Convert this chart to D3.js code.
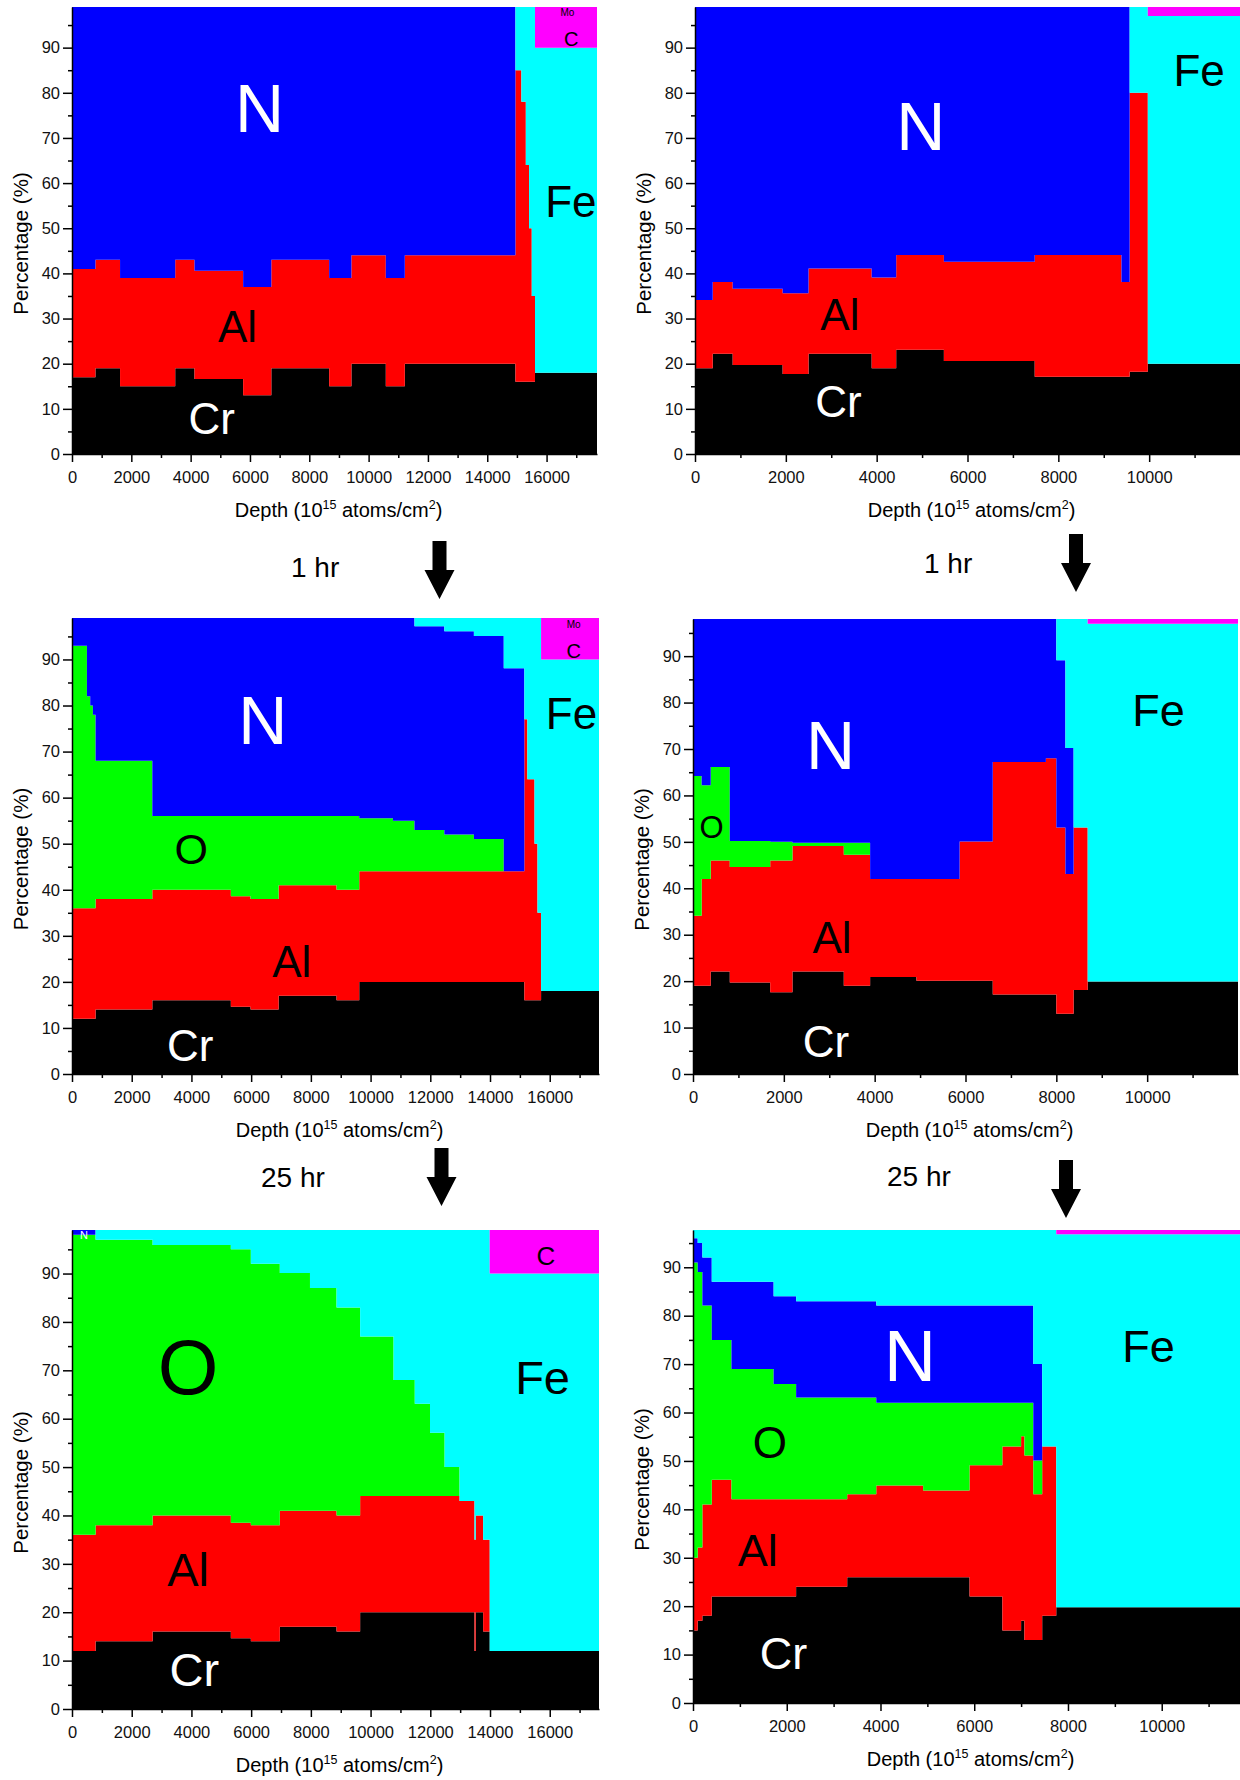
<!DOCTYPE html>
<html>
<head>
<meta charset="utf-8">
<script src="https://cdn.jsdelivr.net/npm/d3@7/dist/d3.min.js"></script>
<style>
    body { margin: 0; background: #fff; }
    svg text { font-family: "Liberation Sans", Arial, Helvetica, sans-serif; }
</style>
</head>
<body>
<svg id="chart" width="1240" height="1780"></svg>
<script>
// elements, stacked bottom to top
var elements = ["Cr", "Al", "O", "N", "Fe", "C"];
var colors = {Cr: "#000000", Al: "#ff0000", O: "#00ff00", N: "#0000ff", Fe: "#00ffff", C: "#ff00ff"};

// tick values
var yMajor = [0, 10, 20, 30, 40, 50, 60, 70, 80, 90];
var yMinor = [5, 15, 25, 35, 45, 55, 65, 75, 85, 95];
var xMajorLong = [0, 2000, 4000, 6000, 8000, 10000, 12000, 14000, 16000];
var xMinorLong = [1000, 3000, 5000, 7000, 9000, 11000, 13000, 15000, 17000];
var xMajorShort = [0, 2000, 4000, 6000, 8000, 10000];
var xMinorShort = [1000, 3000, 5000, 7000, 9000, 11000];

// panel 1 (top left) - bin edges in 10^15 atoms/cm2, values in %
var depth1 = [0, 790, 1620, 3480, 4130, 5770, 6720, 8670, 9420, 10580, 11220, 14950, 15150, 15300, 15410, 15500, 15610, 17700];
var cr1 = [17, 19, 15, 19, 16.6, 13, 19, 15, 20, 15, 20, 16, 16, 16, 16, 16, 18];
var al1 = [24, 24, 24, 24, 24, 24, 24, 24, 24, 24, 24, 69, 62, 48, 34, 19, 0];
var n1 = [58, 56, 60, 56, 58.4, 62, 56, 60, 55, 60, 55, 0, 0, 0, 0, 0, 0];
var fe1 = [0, 0, 0, 0, 0, 0, 0, 0, 0, 0, 0, 14, 21, 35, 49, 64, 72];
var c1 = [0, 0, 0, 0, 0, 0, 0, 0, 0, 0, 0, 0, 0, 0, 0, 0, 9];

// panel 2 (top right)
var depth2 = [0, 390, 830, 1930, 2500, 3890, 4430, 5480, 7480, 9390, 9570, 9970, 12000];
var cr2 = [19, 22.2, 19.7, 17.7, 22.2, 19, 23.1, 20.6, 17.1, 17.1, 18.2, 20];
var al2 = [15.1, 15.9, 16.9, 17.9, 18.9, 20.1, 21, 22, 27, 21, 61.8, 0];
var n2 = [64.9, 60.9, 62.4, 63.4, 57.9, 59.9, 54.9, 56.4, 54.9, 60.9, 0, 0];
var fe2 = [0, 0, 0, 0, 0, 0, 0, 0, 0, 0, 19, 77];
var c2 = [0, 0, 0, 0, 0, 0, 0, 0, 0, 0, 0, 2];

// panel 3 (middle left, 1 hr)
var depth3 = [0, 500, 610, 700, 790, 2690, 5320, 5980, 6920, 8860, 9620, 10750, 11470, 12470, 13460, 14460, 15150, 15250, 15490, 15590, 15710, 17650];
var cr3 = [12, 12, 12, 12, 14, 16, 14.6, 14, 17, 16, 20, 20, 20, 20, 20, 20, 16, 16, 16, 16, 18];
var al3 = [24, 24, 24, 24, 24, 24, 24, 24, 24, 24, 24, 24, 24, 24, 24, 24, 61, 48, 34, 19, 0];
var o3 = [57, 46, 44, 42, 30, 16, 17.4, 18, 15, 16, 11.5, 11, 9, 8, 7, 0, 0, 0, 0, 0, 0];
var n3 = [6, 17, 19, 21, 31, 43, 43, 43, 43, 43, 43.5, 44, 44.2, 44.1, 44.1, 44.1, 0, 0, 0, 0, 0];
var fe3 = [0, 0, 0, 0, 0, 0, 0, 0, 0, 0, 0, 0, 1.8, 2.9, 3.9, 10.9, 22, 35, 49, 64, 72];
var c3 = [0, 0, 0, 0, 0, 0, 0, 0, 0, 0, 0, 0, 0, 0, 0, 0, 0, 0, 0, 0, 9];

// panel 4 (middle right, 1 hr)
var depth4 = [0, 190, 390, 810, 1700, 2190, 3320, 3900, 4920, 5870, 6600, 7770, 8000, 8200, 8380, 8690, 12000];
var cr4 = [19, 19, 22.1, 19.7, 17.6, 22.1, 19, 20.9, 20.1, 20.1, 17.1, 17.1, 13, 13, 18.1, 19.9];
var al4 = [15.1, 23, 23.9, 24.9, 28.4, 27, 28.2, 21.1, 21.9, 30, 50.1, 50.9, 40.1, 30.1, 35, 0];
var o4 = [30.1, 20.2, 20.1, 5.6, 4, 0.7, 2.6, 0, 0, 0, 0, 0, 0, 0, 0, 0];
var n4 = [33.8, 35.8, 31.9, 47.8, 48, 48.2, 48.2, 56, 56, 47.9, 30.8, 30, 36, 27.1, 0, 0];
var fe4 = [0, 0, 0, 0, 0, 0, 0, 0, 0, 0, 0, 0, 8.9, 27.8, 44.9, 77.1];
var c4 = [0, 0, 0, 0, 0, 0, 0, 0, 0, 0, 0, 0, 0, 0, 0, 1];

// panel 5 (bottom left, 25 hr)
var depth5 = [0, 790, 2700, 5320, 5990, 6960, 7970, 8860, 9650, 10770, 11480, 11990, 12480, 12980, 13480, 13520, 13770, 13990, 17650];
var cr5 = [12, 14, 16, 14.6, 14, 17, 17, 16, 20, 20, 20, 20, 20, 20, 12, 20, 16, 12];
var al5 = [24, 24, 24, 23.9, 24, 24, 24, 24, 24, 24, 24, 24, 24, 23, 23, 20, 19, 0];
var o5 = [62, 59, 55.9, 56.5, 54, 49.1, 46, 43, 33, 24, 19.1, 13.1, 6, 0, 0, 0, 0, 0];
var n5 = [1, 0, 0, 0, 0, 0, 0, 0, 0, 0, 0, 0, 0, 0, 0, 0, 0, 0];
var fe5 = [0, 2, 3.1, 4, 7, 8.9, 12, 16, 22, 31, 35.9, 41.9, 49, 56, 64, 59, 64, 78];
var c5 = [0, 0, 0, 0, 0, 0, 0, 0, 0, 0, 0, 0, 0, 0, 0, 0, 0, 9];

// panel 6 (bottom right, 25 hr)
var depth6 = [0, 100, 200, 400, 820, 1720, 2200, 3290, 3910, 4910, 5900, 6600, 7000, 7070, 7260, 7450, 7750, 11670];
var cr6 = [15, 17, 18, 22, 22, 22, 24, 26, 26, 26, 22, 15, 17, 13, 13, 18, 19.8];
var al6 = [15, 15.1, 23, 24.1, 20.1, 20.1, 18.1, 17.1, 18.9, 17.9, 27.1, 38, 38.1, 38.1, 30.1, 35, 0];
var o6 = [61, 56.9, 41.1, 28.9, 26.9, 23.8, 21, 20, 17.1, 18.1, 12.9, 9, 6.9, 10.9, 7, 0, 0];
var n6 = [5, 6, 9.9, 12, 18, 18.1, 19.9, 19.9, 20.1, 20.1, 20.1, 20.1, 20.1, 20.1, 19.9, 0, 0];
var fe6 = [1.7, 2.7, 5.7, 10.7, 10.7, 13.7, 14.7, 14.7, 15.6, 15.6, 15.6, 15.6, 15.6, 15.6, 27.7, 44.7, 77];
var c6 = [0, 0, 0, 0, 0, 0, 0, 0, 0, 0, 0, 0, 0, 0, 0, 0, 0.9];

var panels = [
    {depth: depth1, series: {Cr: cr1, Al: al1, N: n1, Fe: fe1, C: c1}, ymax: 99,
        box: {left: 72, right: 597, top: 7, bottom: 454}, xMajor: xMajorLong, xMinor: xMinorLong,
        labels: [["N", 6320, 71.3, 68, "#fff"], ["Al", 5580, 24.9, 44, "#000"], ["Cr", 4710, 4.5, 44, "#fff"],
            ["Fe", 16820, 52.4, 44, "#000"], ["Mo", 16700, 97.1, 10, "#000"], ["C", 16830, 90.4, 20, "#000"]]},
    {depth: depth2, series: {Cr: cr2, Al: al2, N: n2, Fe: fe2, C: c2}, ymax: 99,
        box: {left: 695, right: 1240, top: 7, bottom: 454}, xMajor: xMajorShort, xMinor: xMinorShort,
        labels: [["N", 4970, 67.4, 68, "#fff"], ["Al", 3190, 27.4, 44, "#000"], ["Cr", 3160, 8.2, 44, "#fff"],
            ["Fe", 11100, 81.4, 44, "#000"]]},
    {depth: depth3, series: {Cr: cr3, Al: al3, O: o3, N: n3, Fe: fe3, C: c3}, ymax: 99,
        box: {left: 72, right: 599, top: 618, bottom: 1074}, xMajor: xMajorLong, xMinor: xMinorLong,
        labels: [["N", 6390, 71.7, 68, "#fff"], ["O", 3990, 45.7, 43, "#000"], ["Al", 7360, 21.1, 44, "#000"],
            ["Cr", 3960, 2.8, 44, "#fff"], ["Fe", 16730, 74.9, 44, "#000"], ["Mo", 16800, 96.9, 10, "#000"],
            ["C", 16800, 90.4, 20, "#000"]]},
    {depth: depth4, series: {Cr: cr4, Al: al4, O: o4, N: n4, Fe: fe4, C: c4}, ymax: 98,
        box: {left: 693, right: 1238, top: 619, bottom: 1074}, xMajor: xMajorShort, xMinor: xMinorShort,
        labels: [["N", 3030, 65.6, 68, "#fff"], ["O", 410, 50.9, 31, "#000"], ["Al", 3060, 26.1, 44, "#000"],
            ["Cr", 2930, 3.6, 44, "#fff"], ["Fe", 10250, 75.0, 45, "#000"]]},
    {depth: depth5, series: {Cr: cr5, Al: al5, O: o5, N: n5, Fe: fe5, C: c5}, ymax: 99,
        box: {left: 72, right: 599, top: 1230, bottom: 1709}, xMajor: xMajorLong, xMinor: xMinorLong,
        labels: [["N", 400, 97.2, 11, "#fff"], ["O", 3890, 65.2, 78, "#000"], ["Al", 3890, 25.5, 47, "#000"],
            ["Cr", 4100, 4.8, 47, "#fff"], ["Fe", 15760, 65.2, 47, "#000"], ["C", 15870, 91.7, 26, "#000"]]},
    {depth: depth6, series: {Cr: cr6, Al: al6, O: o6, N: n6, Fe: fe6, C: c6}, ymax: 97.7,
        box: {left: 693, right: 1240, top: 1230, bottom: 1703}, xMajor: xMajorShort, xMinor: xMinorShort,
        labels: [["N", 4630, 66.5, 72, "#fff"], ["O", 1640, 50.7, 44, "#000"], ["Al", 1380, 28.2, 45, "#000"],
            ["Cr", 1930, 7.0, 45, "#fff"], ["Fe", 9720, 70.5, 45, "#000"]]}
];

var svg = d3.select("#chart");

function drawPanel(p, idx) {
    var b = p.box;
    var xmax = p.depth[p.depth.length - 1];
    var x = d3.scaleLinear().domain([0, xmax]).range([b.left, b.right]);
    var y = d3.scaleLinear().domain([0, p.ymax]).range([b.bottom, b.top]);

    // one row per bin, plus a closing row at the last edge for the step curve
    var rows = p.depth.slice(0, -1).map(function(d, i) {
        var r = {depth: d};
        elements.forEach(function(k) { r[k] = p.series[k] ? p.series[k][i] : 0; });
        return r;
    });
    var closing = Object.assign({}, rows[rows.length - 1], {depth: xmax});
    rows.push(closing);

    var stacked = d3.stack().keys(elements)(rows);

    var area = d3.area()
        .curve(d3.curveStepAfter)
        .x(function(d) { return x(d.data.depth); })
        .y0(function(d) { return y(d[0]); })
        .y1(function(d) { return y(d[1]); });

    var g = svg.append("g").attr("class", "panel" + idx);

    g.selectAll("path.layer")
        .data(stacked)
        .enter().append("path")
        .attr("class", "layer")
        .attr("fill", function(d) { return colors[d.key]; })
        .attr("d", area);

    // element labels
    g.selectAll("text.elem")
        .data(p.labels)
        .enter().append("text")
        .attr("class", "elem")
        .attr("x", function(d) { return x(d[1]); })
        .attr("y", function(d) { return y(d[2]); })
        .attr("text-anchor", "middle")
        .attr("font-size", function(d) { return d[3]; })
        .attr("fill", function(d) { return d[4]; })
        .text(function(d) { return d[0]; });

    // y axis, major + minor ticks
    g.append("g")
        .attr("transform", "translate(" + b.left + ",0)")
        .call(d3.axisLeft(y).tickValues(yMajor).tickSize(9).tickPadding(3).tickSizeOuter(0));
    g.append("g")
        .attr("transform", "translate(" + b.left + ",0)")
        .call(d3.axisLeft(y).tickValues(yMinor).tickSize(4).tickFormat(""))
        .select(".domain").remove();

    // x axis, major + minor ticks
    g.append("g")
        .attr("transform", "translate(0," + b.bottom + ")")
        .call(d3.axisBottom(x).tickValues(p.xMajor).tickFormat(d3.format("d"))
            .tickSize(8).tickPadding(9).tickSizeOuter(0));
    g.append("g")
        .attr("transform", "translate(0," + b.bottom + ")")
        .call(d3.axisBottom(x).tickValues(p.xMinor).tickSize(4).tickFormat(""))
        .select(".domain").remove();

    g.selectAll(".tick line, .domain").attr("stroke", "#000").attr("stroke-width", 1.5);
    g.selectAll(".tick text").attr("font-size", 16.5).attr("fill", "#111")
        .style("font-family", "'Liberation Sans', Arial, sans-serif");

    // axis titles
    var xt = g.append("text")
        .attr("x", (b.left + b.right) / 2 + 4)
        .attr("y", b.bottom + 63)
        .attr("text-anchor", "middle")
        .attr("font-size", 20);
    xt.append("tspan").text("Depth (10");
    xt.append("tspan").attr("font-size", 12.5).attr("dy", -8).text("15");
    xt.append("tspan").attr("dy", 8).text(" atoms/cm");
    xt.append("tspan").attr("font-size", 12.5).attr("dy", -8).text("2");
    xt.append("tspan").attr("dy", 8).text(")");

    g.append("text")
        .attr("transform", "translate(" + (b.left - 44) + "," + ((b.top + b.bottom) / 2 + 13) + ") rotate(-90)")
        .attr("text-anchor", "middle")
        .attr("font-size", 20.5)
        .text("Percentage (%)");
}

panels.forEach(drawPanel);

// time-step annotations between rows
var steps = [
    {text: "1 hr", tx: 291, ty: 577, cx: 439.5, top: 541, tip: 599},
    {text: "1 hr", tx: 924, ty: 573, cx: 1076, top: 534, tip: 592},
    {text: "25 hr", tx: 261, ty: 1187, cx: 441.5, top: 1148, tip: 1206},
    {text: "25 hr", tx: 887, ty: 1186, cx: 1066, top: 1160, tip: 1218}
];

steps.forEach(function(s) {
    svg.append("text")
        .attr("x", s.tx)
        .attr("y", s.ty)
        .attr("font-size", 28)
        .attr("fill", "#000")
        .text(s.text);
    var head = s.tip - 29;
    var pts = [[s.cx - 7, s.top], [s.cx + 7, s.top], [s.cx + 7, head], [s.cx + 15, head],
        [s.cx, s.tip], [s.cx - 15, head], [s.cx - 7, head]];
    svg.append("polygon")
        .attr("points", pts.map(function(q) { return q.join(","); }).join(" "))
        .attr("fill", "#000");
});
</script>
</body>
</html>
